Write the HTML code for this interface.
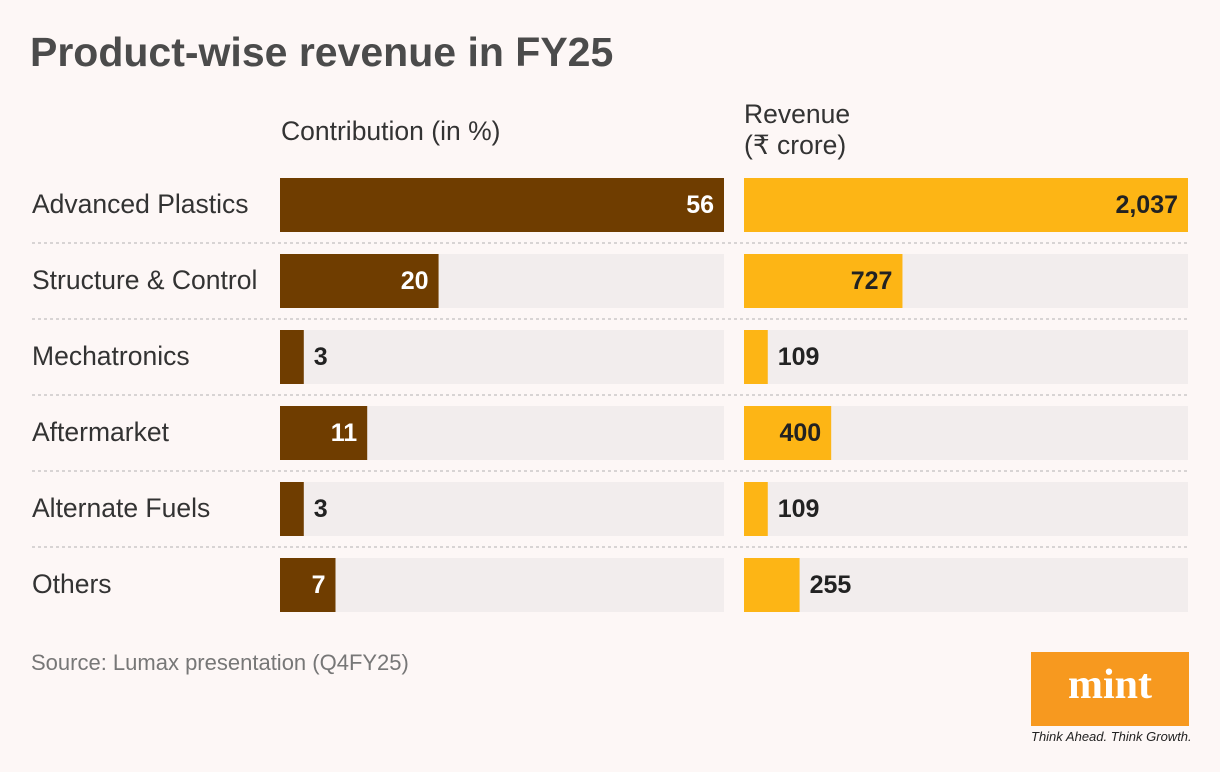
<!DOCTYPE html>
<html><head><meta charset="utf-8"><style>
body{margin:0;background:#fdf7f6;font-family:"Liberation Sans",sans-serif;}
#wrap{position:relative;width:1220px;height:772px;overflow:hidden;}
.t{position:absolute;white-space:nowrap;}
</style></head><body>
<div id="wrap">
<div class="t" style="left:30px;top:29px;font-size:41px;font-weight:bold;color:#4b4b4b;letter-spacing:0px">Product-wise revenue in FY25</div>
<div class="t" style="left:281px;top:116px;font-size:26.5px;color:#333">Contribution (in %)</div>
<div class="t" style="left:744px;top:99px;font-size:26.5px;color:#333;line-height:31px">Revenue<br>(₹ crore)</div>
<svg id="chart" width="1220" height="772" style="position:absolute;left:0;top:0"></svg>
<div class="t" style="left:31px;top:650px;font-size:22px;color:#777">Source: Lumax presentation (Q4FY25)</div>
<div style="position:absolute;left:1031px;top:652px;width:158px;height:74px;background:#f7991f;color:#fff;font-family:'Liberation Serif',serif;font-weight:bold;font-size:42px;text-align:center;line-height:66px">mint</div>
<div class="t" style="left:1031px;top:729px;font-size:13px;font-style:italic;color:#222">Think Ahead. Think Growth.</div>
</div>
<script>
const categories=["Advanced Plastics","Structure & Control","Mechatronics","Aftermarket","Alternate Fuels","Others"];
const contribution=[56,20,3,11,3,7];
const revenue=[2037,727,109,400,109,255];
const revenueLabels=["2,037","727","109","400","109","255"];
const svg=document.getElementById('chart');
const NS='http://www.w3.org/2000/svg';
function mk(t,a){const e=document.createElementNS(NS,t);for(const k in a)e.setAttribute(k,a[k]);svg.appendChild(e);return e;}
const W=444,top0=178,pitch=76,bh=54;
const xL=v=>W*v/Math.max(...contribution);
const xR=v=>W*v/Math.max(...revenue);
const y=i=>top0+i*pitch;
categories.forEach((c,i)=>{
  const yy=y(i);
  const lab=mk('text',{x:32,y:yy+35,'font-size':26.5,fill:'#333'});lab.textContent=c;
  
  
  if(i>0){const s=mk('line',{x1:32,x2:1188,y1:yy-11,y2:yy-11,stroke:'#d8d4d4','stroke-width':2,'stroke-dasharray':'3,3'});
  
  }
  const bgL=mk('rect',{x:280,y:yy,width:W,height:bh,fill:'#f2eded'});
  
  
  const bgR=mk('rect',{x:744,y:yy,width:W,height:bh,fill:'#f2eded'});
  
  
  const wl=xL(contribution[i]);
  const bl=mk('rect',{x:280,y:yy,width:wl,height:bh,fill:'#6f3d00'});
  
  
  const inL=wl>40;
  const tl=mk('text',{x:inL?280+wl-10:280+wl+10,y:yy+35,'font-size':25,'font-weight':'bold',fill:inL?'#fff':'#222','text-anchor':inL?'end':'start'});
  tl.textContent=contribution[i];
  
  
  const wr=xR(revenue[i]);
  const br=mk('rect',{x:744,y:yy,width:wr,height:bh,fill:'#fdb515'});
  
  
  const inR=wr>80;
  const tr=mk('text',{x:inR?744+wr-10:744+wr+10,y:yy+35,'font-size':25,'font-weight':'bold',fill:'#222','text-anchor':inR?'end':'start'});
  tr.textContent=revenueLabels[i];
  
  
});
</script>
</body></html>
